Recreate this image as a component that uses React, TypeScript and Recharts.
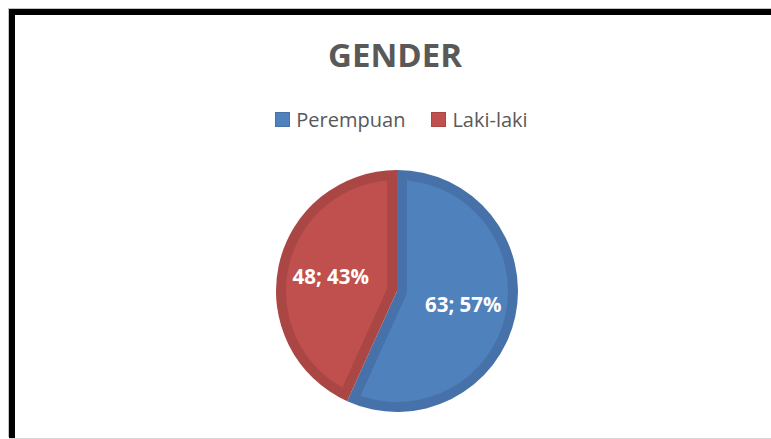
import React from 'react';
import { PieChart, Pie, Cell, Legend } from 'recharts';

const categories = ['Perempuan', 'Laki-laki'];
const values = [63, 48];
const fillColors = ['#4F81BD', '#C0504D'];
const borderColors = ['#4672A9', '#AA4744'];
const titleText = 'GENDER';

const data = categories.map((name, i) => ({ name, value: values[i] }));

const RAD = Math.PI / 180;

const renderLabel = (props: any) => {
  const { cx, cy, outerRadius, startAngle, endAngle, midAngle, value, percent, index } = props;
  const d = 10;
  const u = (a: number) => [Math.cos(a * RAD), -Math.sin(a * RAD)];
  const add = (base: number[], v: number[], k: number) => [base[0] + v[0] * k, base[1] + v[1] * k];
  const c = [cx, cy];
  const s = startAngle;
  const e = endAngle;
  const dir = e < s ? -1 : 1;
  const sweep = Math.abs(e - s);
  const R2 = outerRadius - d;
  const t = Math.sqrt(R2 * R2 - d * d);
  const ns = u(s + dir * 90);
  const ne = u(e - dir * 90);
  const Qs = add(add(c, ns, d), u(s), t);
  const Qe = add(add(c, ne, d), u(e), t);
  const flag = dir < 0 ? 1 : 0;
  const span = sweep - 2 * Math.asin(d / R2) / RAD;
  const large = span > 180 ? 1 : 0;
  let path = '';
  if (sweep < 180) {
    const mid = s + (dir * sweep) / 2;
    const apex = add(c, u(mid), d / Math.sin((sweep / 2) * RAD));
    path = `M${apex[0]},${apex[1]} L${Qs[0]},${Qs[1]} A${R2},${R2} 0 ${large} ${flag} ${Qe[0]},${Qe[1]} Z`;
  } else {
    const As = add(c, ns, d);
    const Ae = add(c, ne, d);
    path = `M${As[0]},${As[1]} L${Qs[0]},${Qs[1]} A${R2},${R2} 0 ${large} ${flag} ${Qe[0]},${Qe[1]} L${Ae[0]},${Ae[1]} A${d},${d} 0 0 ${1 - flag} ${As[0]},${As[1]} Z`;
  }
  const lr = outerRadius * 0.56;
  const tx = cx + lr * Math.cos(midAngle * RAD);
  const ty = cy - lr * Math.sin(midAngle * RAD);
  return (
    <g key={`lbl-${index}`}>
      <path d={path} fill={fillColors[index]} stroke="none" />
      <text
        x={tx}
        y={ty}
        dy={7}
        textAnchor="middle"
        fill="#FFFFFF"
        fontFamily="'Open Sans', sans-serif"
        fontWeight={700}
        fontSize={20.5}
      >
        {`${value}; ${Math.round(percent * 100)}%`}
      </text>
    </g>
  );
};

const renderLegend = () => {
  return (
    <div style={{ display: 'flex', justifyContent: 'center', alignItems: 'center', lineHeight: '27px' }}>
      {categories.map((name, i) => (
        <div key={`leg-${i}`} style={{ display: 'flex', alignItems: 'center', marginRight: i < categories.length - 1 ? 26 : 0 }}>
          <span
            style={{
              display: 'inline-block',
              width: 13,
              height: 13,
              background: fillColors[i],
              border: `1px solid ${borderColors[i]}`,
              marginRight: 6,
            }}
          />
          <span style={{ fontFamily: "'Open Sans', sans-serif", fontSize: 20, color: '#595959' }}>{name}</span>
        </div>
      ))}
    </div>
  );
};

export default function App() {
  return (
    <div style={{ position: 'absolute', left: 0, top: 0, width: 771, height: 439, overflow: 'hidden', background: '#fff' }}>
      <div
        style={{
          position: 'absolute',
          left: 9,
          top: 9,
          width: 900,
          height: 429,
          borderTop: '6px solid #000',
          borderLeft: '6px solid #000',
          boxSizing: 'border-box',
          boxShadow: '-1px -1px 0 #c4c4c4',
        }}
      />
      <div style={{ position: 'absolute', left: 9, top: 438, width: 762, height: 1, background: '#d4d4d4' }} />
      <div
        style={{
          position: 'absolute',
          left: 0,
          top: 32,
          width: 790,
          textAlign: 'center',
          fontFamily: "'Open Sans', sans-serif",
          fontWeight: 700,
          fontSize: 33,
          lineHeight: '45px',
          color: '#595959',
        }}
      >
        {titleText}
      </div>
      <div style={{ position: 'absolute', left: 0, top: 0 }}>
        <PieChart width={771} height={439} margin={{ top: 0, right: 0, bottom: 0, left: 0 }}>
          <Legend
            verticalAlign="middle"
            align="center"
            layout="horizontal"
            content={renderLegend}
            wrapperStyle={{ top: 106, left: 16, width: 771 }}
          />
          <Pie
            data={data}
            dataKey="value"
            nameKey="name"
            cx={397}
            cy={291}
            outerRadius={121}
            startAngle={90}
            endAngle={-270}
            stroke="none"
            labelLine={false}
            label={renderLabel}
            isAnimationActive={false}
          >
            {data.map((entry, i) => (
              <Cell key={`cell-${i}`} fill={borderColors[i]} />
            ))}
          </Pie>
        </PieChart>
      </div>
    </div>
  );
}
